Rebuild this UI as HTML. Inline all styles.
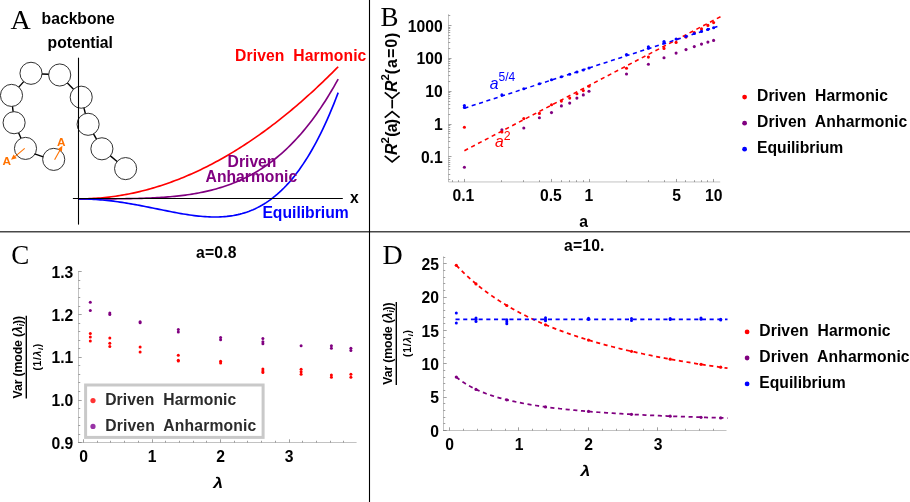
<!DOCTYPE html>
<html><head><meta charset="utf-8"><title>figure</title>
<style>
html,body{margin:0;padding:0;background:#fff;}
body{width:910px;height:502px;overflow:hidden;font-family:"Liberation Sans",sans-serif;}
svg{display:block;will-change:transform;}
text{font-family:"Liberation Sans",sans-serif;}
.b{font-weight:bold;}
.s{font-family:"Liberation Serif",serif;}
</style></head><body>
<svg width="910" height="502" viewBox="0 0 910 502">
<rect x="0" y="0" width="910" height="502" fill="#ffffff"/>

<rect x="0" y="231" width="910" height="1" fill="#484848"/><rect x="0" y="232" width="910" height="1" fill="#a4a4a4"/>
<line x1="369.5" y1="0" x2="369.5" y2="502" stroke="#000" stroke-width="1.1"/>
<text class="s" x="10.6" y="28.5" font-size="28" fill="#000">A</text>
<text class="s" x="380.6" y="26.0" font-size="27" fill="#000">B</text>
<text class="s" x="11.2" y="263.6" font-size="27" fill="#000">C</text>
<text class="s" x="382.6" y="263.8" font-size="28" fill="#000">D</text>
<text class="b" x="41.6" y="23.8" font-size="15.7" fill="#000">backbone</text>
<text class="b" x="47.6" y="47.9" font-size="15.7" fill="#000">potential</text>
<text class="b" x="350" y="203.2" font-size="15.7" fill="#000">x</text>
<line x1="18.8" y1="87.1" x2="23.7" y2="81.6" stroke="#000" stroke-width="1.4"/>
<line x1="42.0" y1="74.0" x2="48.7" y2="74.3" stroke="#000" stroke-width="1.4"/>
<line x1="67.4" y1="82.9" x2="73.5" y2="89.3" stroke="#000" stroke-width="1.4"/>
<line x1="83.9" y1="107.9" x2="85.4" y2="113.6" stroke="#000" stroke-width="1.4"/>
<line x1="93.5" y1="133.9" x2="96.5" y2="139.2" stroke="#000" stroke-width="1.4"/>
<line x1="110.4" y1="155.9" x2="117.1" y2="161.5" stroke="#000" stroke-width="1.4"/>
<line x1="12.5" y1="106.4" x2="13.1" y2="111.7" stroke="#000" stroke-width="1.4"/>
<line x1="18.6" y1="132.8" x2="21.0" y2="138.3" stroke="#000" stroke-width="1.4"/>
<line x1="34.6" y1="153.9" x2="43.3" y2="156.8" stroke="#000" stroke-width="1.4"/>
<circle cx="11.5" cy="95.4" r="11.05" fill="none" stroke="#1a1a1a" stroke-width="0.9"/>
<circle cx="31.0" cy="73.3" r="11.05" fill="none" stroke="#1a1a1a" stroke-width="0.9"/>
<circle cx="59.7" cy="75.0" r="11.05" fill="none" stroke="#1a1a1a" stroke-width="0.9"/>
<circle cx="81.2" cy="97.2" r="11.05" fill="none" stroke="#1a1a1a" stroke-width="0.9"/>
<circle cx="88.1" cy="124.3" r="11.05" fill="none" stroke="#1a1a1a" stroke-width="0.9"/>
<circle cx="101.9" cy="148.8" r="11.05" fill="none" stroke="#1a1a1a" stroke-width="0.9"/>
<circle cx="125.6" cy="168.6" r="11.05" fill="none" stroke="#1a1a1a" stroke-width="0.9"/>
<circle cx="14.1" cy="122.7" r="11.05" fill="none" stroke="#1a1a1a" stroke-width="0.9"/>
<circle cx="25.5" cy="148.4" r="11.05" fill="none" stroke="#1a1a1a" stroke-width="0.9"/>
<circle cx="53.7" cy="159.4" r="11.05" fill="none" stroke="#1a1a1a" stroke-width="0.9"/>
<line x1="54.6" y1="159.7" x2="59.8" y2="150.5" stroke="#ff7200" stroke-width="1.1"/>
<polygon points="62.4,145.8 61.9,151.7 57.6,149.3" fill="#ff7200"/>
<line x1="24.7" y1="148.4" x2="15.2" y2="156.3" stroke="#ff7200" stroke-width="1.1"/>
<polygon points="11.0,159.8 13.6,154.4 16.7,158.3" fill="#ff7200"/>
<text class="b" x="57.1" y="145.7" font-size="11.8" fill="#ff7200">A</text>
<text class="b" x="2.6" y="164.9" font-size="11.8" fill="#ff7200">A</text>
<path d="M78.50,198.90 L80.68,198.89 L82.86,198.86 L85.05,198.82 L87.23,198.75 L89.41,198.67 L91.59,198.56 L93.78,198.44 L95.96,198.30 L98.14,198.14 L100.32,197.97 L102.51,197.77 L104.69,197.56 L106.87,197.32 L109.05,197.07 L111.24,196.80 L113.42,196.51 L115.60,196.20 L117.78,195.88 L119.96,195.53 L122.15,195.17 L124.33,194.78 L126.51,194.38 L128.69,193.96 L130.88,193.52 L133.06,193.07 L135.24,192.59 L137.42,192.09 L139.61,191.58 L141.79,191.05 L143.97,190.50 L146.15,189.93 L148.34,189.34 L150.52,188.73 L152.70,188.11 L154.88,187.46 L157.06,186.80 L159.25,186.12 L161.43,185.42 L163.61,184.70 L165.79,183.96 L167.98,183.21 L170.16,182.43 L172.34,181.64 L174.52,180.83 L176.71,180.00 L178.89,179.15 L181.07,178.28 L183.25,177.39 L185.44,176.49 L187.62,175.56 L189.80,174.62 L191.98,173.66 L194.16,172.68 L196.35,171.68 L198.53,170.66 L200.71,169.63 L202.89,168.57 L205.08,167.50 L207.26,166.41 L209.44,165.29 L211.62,164.17 L213.81,163.02 L215.99,161.85 L218.17,160.66 L220.35,159.46 L222.54,158.24 L224.72,157.00 L226.90,155.74 L229.08,154.46 L231.26,153.16 L233.45,151.84 L235.63,150.51 L237.81,149.15 L239.99,147.78 L242.18,146.39 L244.36,144.98 L246.54,143.55 L248.72,142.11 L250.91,140.64 L253.09,139.16 L255.27,137.65 L257.45,136.13 L259.64,134.59 L261.82,133.03 L264.00,131.46 L266.18,129.86 L268.36,128.24 L270.55,126.61 L272.73,124.96 L274.91,123.29 L277.09,121.60 L279.28,119.89 L281.46,118.16 L283.64,116.42 L285.82,114.65 L288.01,112.87 L290.19,111.07 L292.37,109.25 L294.55,107.41 L296.74,105.55 L298.92,103.68 L301.10,101.78 L303.28,99.87 L305.46,97.93 L307.65,95.98 L309.83,94.01 L312.01,92.03 L314.19,90.02 L316.38,87.99 L318.56,85.95 L320.74,83.89 L322.92,81.80 L325.11,79.70 L327.29,77.58 L329.47,75.45 L331.65,73.29 L333.84,71.12 L336.02,68.92 L338.20,66.71" fill="none" stroke="#ff0000" stroke-width="1.65" stroke-linejoin="round"/>
<path d="M78.50,198.90 L80.68,198.90 L82.86,198.90 L85.05,198.90 L87.23,198.90 L89.41,198.89 L91.59,198.89 L93.78,198.89 L95.96,198.89 L98.14,198.88 L100.32,198.88 L102.51,198.87 L104.69,198.86 L106.87,198.85 L109.05,198.84 L111.24,198.83 L113.42,198.81 L115.60,198.80 L117.78,198.78 L119.96,198.76 L122.15,198.73 L124.33,198.70 L126.51,198.67 L128.69,198.64 L130.88,198.60 L133.06,198.55 L135.24,198.50 L137.42,198.45 L139.61,198.39 L141.79,198.33 L143.97,198.26 L146.15,198.18 L148.34,198.09 L150.52,198.00 L152.70,197.90 L154.88,197.79 L157.06,197.67 L159.25,197.54 L161.43,197.41 L163.61,197.26 L165.79,197.10 L167.98,196.93 L170.16,196.75 L172.34,196.55 L174.52,196.34 L176.71,196.12 L178.89,195.88 L181.07,195.63 L183.25,195.36 L185.44,195.07 L187.62,194.77 L189.80,194.45 L191.98,194.11 L194.16,193.75 L196.35,193.38 L198.53,192.98 L200.71,192.56 L202.89,192.11 L205.08,191.65 L207.26,191.16 L209.44,190.64 L211.62,190.10 L213.81,189.53 L215.99,188.94 L218.17,188.32 L220.35,187.66 L222.54,186.98 L224.72,186.27 L226.90,185.53 L229.08,184.75 L231.26,183.94 L233.45,183.09 L235.63,182.21 L237.81,181.29 L239.99,180.34 L242.18,179.34 L244.36,178.31 L246.54,177.23 L248.72,176.11 L250.91,174.95 L253.09,173.75 L255.27,172.50 L257.45,171.20 L259.64,169.86 L261.82,168.46 L264.00,167.02 L266.18,165.53 L268.36,163.98 L270.55,162.38 L272.73,160.73 L274.91,159.02 L277.09,157.25 L279.28,155.43 L281.46,153.54 L283.64,151.60 L285.82,149.59 L288.01,147.52 L290.19,145.38 L292.37,143.18 L294.55,140.90 L296.74,138.56 L298.92,136.15 L301.10,133.67 L303.28,131.11 L305.46,128.48 L307.65,125.78 L309.83,122.99 L312.01,120.13 L314.19,117.18 L316.38,114.16 L318.56,111.05 L320.74,107.85 L322.92,104.57 L325.11,101.20 L327.29,97.74 L329.47,94.18 L331.65,90.54 L333.84,86.80 L336.02,82.96 L338.20,79.03" fill="none" stroke="#800080" stroke-width="1.65" stroke-linejoin="round"/>
<path d="M78.50,198.90 L80.68,198.91 L82.86,198.94 L85.05,198.98 L87.23,199.05 L89.41,199.13 L91.59,199.23 L93.78,199.35 L95.96,199.49 L98.14,199.64 L100.32,199.81 L102.51,200.00 L104.69,200.21 L106.87,200.43 L109.05,200.67 L111.24,200.92 L113.42,201.19 L115.60,201.48 L117.78,201.77 L119.96,202.09 L122.15,202.41 L124.33,202.75 L126.51,203.10 L128.69,203.47 L130.88,203.84 L133.06,204.22 L135.24,204.62 L137.42,205.02 L139.61,205.43 L141.79,205.85 L143.97,206.27 L146.15,206.70 L148.34,207.14 L150.52,207.58 L152.70,208.02 L154.88,208.46 L157.06,208.91 L159.25,209.35 L161.43,209.80 L163.61,210.24 L165.79,210.68 L167.98,211.12 L170.16,211.55 L172.34,211.97 L174.52,212.38 L176.71,212.79 L178.89,213.19 L181.07,213.57 L183.25,213.94 L185.44,214.30 L187.62,214.64 L189.80,214.97 L191.98,215.28 L194.16,215.56 L196.35,215.83 L198.53,216.07 L200.71,216.29 L202.89,216.48 L205.08,216.65 L207.26,216.78 L209.44,216.88 L211.62,216.96 L213.81,216.99 L215.99,216.99 L218.17,216.96 L220.35,216.88 L222.54,216.76 L224.72,216.60 L226.90,216.40 L229.08,216.14 L231.26,215.84 L233.45,215.49 L235.63,215.08 L237.81,214.62 L239.99,214.10 L242.18,213.52 L244.36,212.88 L246.54,212.18 L248.72,211.41 L250.91,210.57 L253.09,209.66 L255.27,208.68 L257.45,207.63 L259.64,206.50 L261.82,205.29 L264.00,204.00 L266.18,202.62 L268.36,201.16 L270.55,199.60 L272.73,197.96 L274.91,196.22 L277.09,194.39 L279.28,192.46 L281.46,190.42 L283.64,188.28 L285.82,186.04 L288.01,183.68 L290.19,181.21 L292.37,178.63 L294.55,175.93 L296.74,173.11 L298.92,170.16 L301.10,167.09 L303.28,163.89 L305.46,160.56 L307.65,157.09 L309.83,153.48 L312.01,149.73 L314.19,145.84 L316.38,141.80 L318.56,137.62 L320.74,133.27 L322.92,128.77 L325.11,124.12 L327.29,119.30 L329.47,114.31 L331.65,109.15 L333.84,103.82 L336.02,98.32 L338.20,92.63" fill="none" stroke="#0000ff" stroke-width="1.65" stroke-linejoin="round"/>
<line x1="78.5" y1="57.7" x2="78.5" y2="224.6" stroke="#000" stroke-width="1.1"/>
<line x1="72.9" y1="198.55" x2="342.8" y2="198.55" stroke="#000" stroke-width="1.05"/>
<text class="b" x="235.1" y="60.9" font-size="15.7" fill="#ff0000" textLength="131.2" lengthAdjust="spacing" xml:space="preserve">Driven  Harmonic</text>
<text class="b" x="227.6" y="167.0" font-size="15.7" fill="#800080">Driven</text>
<text class="b" x="205.6" y="182.4" font-size="15.7" fill="#800080">Anharmonic</text>
<text class="b" x="262.4" y="217.8" font-size="15.7" fill="#0000ff">Equilibrium</text>
<line x1="448.5" y1="14.2" x2="448.5" y2="181.95" stroke="#666666" stroke-opacity="0.4" stroke-width="1"/>
<line x1="448.5" y1="181.95" x2="720.2" y2="181.95" stroke="#666666" stroke-opacity="0.4" stroke-width="1"/>
<line x1="452.50" y1="181.95" x2="452.50" y2="180.2" stroke="#666666" stroke-opacity="0.62" stroke-width="1"/>
<line x1="458.50" y1="181.95" x2="458.50" y2="180.2" stroke="#666666" stroke-opacity="0.62" stroke-width="1"/>
<line x1="464.50" y1="181.95" x2="464.50" y2="178.95" stroke="#666666" stroke-opacity="0.62" stroke-width="1"/>
<line x1="501.50" y1="181.95" x2="501.50" y2="180.2" stroke="#666666" stroke-opacity="0.62" stroke-width="1"/>
<line x1="523.50" y1="181.95" x2="523.50" y2="180.2" stroke="#666666" stroke-opacity="0.62" stroke-width="1"/>
<line x1="539.50" y1="181.95" x2="539.50" y2="180.2" stroke="#666666" stroke-opacity="0.62" stroke-width="1"/>
<line x1="551.50" y1="181.95" x2="551.50" y2="178.95" stroke="#666666" stroke-opacity="0.62" stroke-width="1"/>
<line x1="561.50" y1="181.95" x2="561.50" y2="180.2" stroke="#666666" stroke-opacity="0.62" stroke-width="1"/>
<line x1="569.50" y1="181.95" x2="569.50" y2="180.2" stroke="#666666" stroke-opacity="0.62" stroke-width="1"/>
<line x1="576.50" y1="181.95" x2="576.50" y2="180.2" stroke="#666666" stroke-opacity="0.62" stroke-width="1"/>
<line x1="583.50" y1="181.95" x2="583.50" y2="180.2" stroke="#666666" stroke-opacity="0.62" stroke-width="1"/>
<line x1="589.50" y1="181.95" x2="589.50" y2="178.95" stroke="#666666" stroke-opacity="0.62" stroke-width="1"/>
<line x1="626.50" y1="181.95" x2="626.50" y2="180.2" stroke="#666666" stroke-opacity="0.62" stroke-width="1"/>
<line x1="648.50" y1="181.95" x2="648.50" y2="180.2" stroke="#666666" stroke-opacity="0.62" stroke-width="1"/>
<line x1="664.50" y1="181.95" x2="664.50" y2="180.2" stroke="#666666" stroke-opacity="0.62" stroke-width="1"/>
<line x1="676.50" y1="181.95" x2="676.50" y2="178.95" stroke="#666666" stroke-opacity="0.62" stroke-width="1"/>
<line x1="685.50" y1="181.95" x2="685.50" y2="180.2" stroke="#666666" stroke-opacity="0.62" stroke-width="1"/>
<line x1="694.50" y1="181.95" x2="694.50" y2="180.2" stroke="#666666" stroke-opacity="0.62" stroke-width="1"/>
<line x1="701.50" y1="181.95" x2="701.50" y2="180.2" stroke="#666666" stroke-opacity="0.62" stroke-width="1"/>
<line x1="707.50" y1="181.95" x2="707.50" y2="180.2" stroke="#666666" stroke-opacity="0.62" stroke-width="1"/>
<line x1="713.50" y1="181.95" x2="713.50" y2="178.95" stroke="#666666" stroke-opacity="0.62" stroke-width="1"/>
<line x1="448.5" y1="179.50" x2="450.25" y2="179.50" stroke="#666666" stroke-opacity="0.62" stroke-width="1"/>
<line x1="448.5" y1="174.50" x2="450.25" y2="174.50" stroke="#666666" stroke-opacity="0.62" stroke-width="1"/>
<line x1="448.5" y1="169.50" x2="450.25" y2="169.50" stroke="#666666" stroke-opacity="0.62" stroke-width="1"/>
<line x1="448.5" y1="166.50" x2="450.25" y2="166.50" stroke="#666666" stroke-opacity="0.62" stroke-width="1"/>
<line x1="448.5" y1="164.50" x2="450.25" y2="164.50" stroke="#666666" stroke-opacity="0.62" stroke-width="1"/>
<line x1="448.5" y1="162.50" x2="450.25" y2="162.50" stroke="#666666" stroke-opacity="0.62" stroke-width="1"/>
<line x1="448.5" y1="160.50" x2="450.25" y2="160.50" stroke="#666666" stroke-opacity="0.62" stroke-width="1"/>
<line x1="448.5" y1="158.50" x2="450.25" y2="158.50" stroke="#666666" stroke-opacity="0.62" stroke-width="1"/>
<line x1="448.5" y1="156.50" x2="451.5" y2="156.50" stroke="#666666" stroke-opacity="0.62" stroke-width="1"/>
<line x1="448.5" y1="147.50" x2="450.25" y2="147.50" stroke="#666666" stroke-opacity="0.62" stroke-width="1"/>
<line x1="448.5" y1="141.50" x2="450.25" y2="141.50" stroke="#666666" stroke-opacity="0.62" stroke-width="1"/>
<line x1="448.5" y1="137.50" x2="450.25" y2="137.50" stroke="#666666" stroke-opacity="0.62" stroke-width="1"/>
<line x1="448.5" y1="133.50" x2="450.25" y2="133.50" stroke="#666666" stroke-opacity="0.62" stroke-width="1"/>
<line x1="448.5" y1="131.50" x2="450.25" y2="131.50" stroke="#666666" stroke-opacity="0.62" stroke-width="1"/>
<line x1="448.5" y1="129.50" x2="450.25" y2="129.50" stroke="#666666" stroke-opacity="0.62" stroke-width="1"/>
<line x1="448.5" y1="127.50" x2="450.25" y2="127.50" stroke="#666666" stroke-opacity="0.62" stroke-width="1"/>
<line x1="448.5" y1="125.50" x2="450.25" y2="125.50" stroke="#666666" stroke-opacity="0.62" stroke-width="1"/>
<line x1="448.5" y1="124.50" x2="451.5" y2="124.50" stroke="#666666" stroke-opacity="0.62" stroke-width="1"/>
<line x1="448.5" y1="114.50" x2="450.25" y2="114.50" stroke="#666666" stroke-opacity="0.62" stroke-width="1"/>
<line x1="448.5" y1="108.50" x2="450.25" y2="108.50" stroke="#666666" stroke-opacity="0.62" stroke-width="1"/>
<line x1="448.5" y1="104.50" x2="450.25" y2="104.50" stroke="#666666" stroke-opacity="0.62" stroke-width="1"/>
<line x1="448.5" y1="101.50" x2="450.25" y2="101.50" stroke="#666666" stroke-opacity="0.62" stroke-width="1"/>
<line x1="448.5" y1="98.50" x2="450.25" y2="98.50" stroke="#666666" stroke-opacity="0.62" stroke-width="1"/>
<line x1="448.5" y1="96.50" x2="450.25" y2="96.50" stroke="#666666" stroke-opacity="0.62" stroke-width="1"/>
<line x1="448.5" y1="94.50" x2="450.25" y2="94.50" stroke="#666666" stroke-opacity="0.62" stroke-width="1"/>
<line x1="448.5" y1="92.50" x2="450.25" y2="92.50" stroke="#666666" stroke-opacity="0.62" stroke-width="1"/>
<line x1="448.5" y1="91.50" x2="451.5" y2="91.50" stroke="#666666" stroke-opacity="0.62" stroke-width="1"/>
<line x1="448.5" y1="81.50" x2="450.25" y2="81.50" stroke="#666666" stroke-opacity="0.62" stroke-width="1"/>
<line x1="448.5" y1="75.50" x2="450.25" y2="75.50" stroke="#666666" stroke-opacity="0.62" stroke-width="1"/>
<line x1="448.5" y1="71.50" x2="450.25" y2="71.50" stroke="#666666" stroke-opacity="0.62" stroke-width="1"/>
<line x1="448.5" y1="68.50" x2="450.25" y2="68.50" stroke="#666666" stroke-opacity="0.62" stroke-width="1"/>
<line x1="448.5" y1="65.50" x2="450.25" y2="65.50" stroke="#666666" stroke-opacity="0.62" stroke-width="1"/>
<line x1="448.5" y1="63.50" x2="450.25" y2="63.50" stroke="#666666" stroke-opacity="0.62" stroke-width="1"/>
<line x1="448.5" y1="61.50" x2="450.25" y2="61.50" stroke="#666666" stroke-opacity="0.62" stroke-width="1"/>
<line x1="448.5" y1="59.50" x2="450.25" y2="59.50" stroke="#666666" stroke-opacity="0.62" stroke-width="1"/>
<line x1="448.5" y1="58.50" x2="451.5" y2="58.50" stroke="#666666" stroke-opacity="0.62" stroke-width="1"/>
<line x1="448.5" y1="48.50" x2="450.25" y2="48.50" stroke="#666666" stroke-opacity="0.62" stroke-width="1"/>
<line x1="448.5" y1="42.50" x2="450.25" y2="42.50" stroke="#666666" stroke-opacity="0.62" stroke-width="1"/>
<line x1="448.5" y1="38.50" x2="450.25" y2="38.50" stroke="#666666" stroke-opacity="0.62" stroke-width="1"/>
<line x1="448.5" y1="35.50" x2="450.25" y2="35.50" stroke="#666666" stroke-opacity="0.62" stroke-width="1"/>
<line x1="448.5" y1="32.50" x2="450.25" y2="32.50" stroke="#666666" stroke-opacity="0.62" stroke-width="1"/>
<line x1="448.5" y1="30.50" x2="450.25" y2="30.50" stroke="#666666" stroke-opacity="0.62" stroke-width="1"/>
<line x1="448.5" y1="28.50" x2="450.25" y2="28.50" stroke="#666666" stroke-opacity="0.62" stroke-width="1"/>
<line x1="448.5" y1="27.50" x2="450.25" y2="27.50" stroke="#666666" stroke-opacity="0.62" stroke-width="1"/>
<line x1="448.5" y1="25.50" x2="451.5" y2="25.50" stroke="#666666" stroke-opacity="0.62" stroke-width="1"/>
<line x1="448.5" y1="15.50" x2="450.25" y2="15.50" stroke="#666666" stroke-opacity="0.62" stroke-width="1"/>
<text class="b" x="442.7" y="31.6" font-size="15.7" text-anchor="end" fill="#000">1000</text>
<text class="b" x="442.7" y="64.4" font-size="15.7" text-anchor="end" fill="#000">100</text>
<text class="b" x="442.7" y="97.3" font-size="15.7" text-anchor="end" fill="#000">10</text>
<text class="b" x="442.7" y="130.1" font-size="15.7" text-anchor="end" fill="#000">1</text>
<text class="b" x="442.7" y="162.9" font-size="15.7" text-anchor="end" fill="#000">0.1</text>
<text class="b" x="463.4" y="200.6" font-size="15.7" text-anchor="middle" fill="#000">0.1</text>
<text class="b" x="550.9" y="200.6" font-size="15.7" text-anchor="middle" fill="#000">0.5</text>
<text class="b" x="588.8" y="200.6" font-size="15.7" text-anchor="middle" fill="#000">1</text>
<text class="b" x="676.7" y="200.6" font-size="15.7" text-anchor="middle" fill="#000">5</text>
<text class="b" x="713.8" y="200.6" font-size="15.7" text-anchor="middle" fill="#000">10</text>
<text class="b" x="583.6" y="227.1" font-size="15.7" text-anchor="middle" fill="#000">a</text>
<g transform="translate(396.6,162.9) rotate(-90)" id="bylab"><polyline points="7.0,-11.9 0.9,-4.45 7.0,3.0" fill="none" stroke="#000" stroke-width="1.7" stroke-linejoin="miter"/><text class="b" x="8.0" y="0" font-size="16" font-style="italic" fill="#000">R</text><text class="b" x="19.5" y="-7.4" font-size="11.5" fill="#000">2</text><text class="b" x="26.2" y="0" font-size="16" textLength="17.9" lengthAdjust="spacing" fill="#000">(a)</text><polyline points="45.3,-11.9 51.4,-4.45 45.3,3.0" fill="none" stroke="#000" stroke-width="1.7" stroke-linejoin="miter"/><line x1="54.5" y1="-4.4" x2="63.2" y2="-4.4" stroke="#000" stroke-width="1.7"/><polyline points="70.6,-11.9 64.5,-4.45 70.6,3.0" fill="none" stroke="#000" stroke-width="1.7" stroke-linejoin="miter"/><text class="b" x="70.8" y="0" font-size="16" font-style="italic" fill="#000">R</text><text class="b" x="82.3" y="-7.4" font-size="11.5" fill="#000">2</text><text class="b" x="88.7" y="0" font-size="16" textLength="41.6" lengthAdjust="spacing" fill="#000">(a=0)</text></g>
<line x1="464.40" y1="150.70" x2="720.50" y2="16.70" stroke="#ff0000" stroke-width="1.55" stroke-dasharray="4.1 3.6"/>
<line x1="464.40" y1="108.20" x2="720.80" y2="25.30" stroke="#0000ff" stroke-width="1.55" stroke-dasharray="4.1 3.6"/>
<circle cx="464.4" cy="167.2" r="1.55" fill="#800080"/>
<circle cx="501.9" cy="129.8" r="1.55" fill="#800080"/>
<circle cx="523.8" cy="128.0" r="1.55" fill="#800080"/>
<circle cx="539.4" cy="117.8" r="1.55" fill="#800080"/>
<circle cx="551.5" cy="112.6" r="1.55" fill="#800080"/>
<circle cx="561.4" cy="105.9" r="1.55" fill="#800080"/>
<circle cx="569.7" cy="103.1" r="1.55" fill="#800080"/>
<circle cx="576.9" cy="98.1" r="1.55" fill="#800080"/>
<circle cx="583.3" cy="94.9" r="1.55" fill="#800080"/>
<circle cx="589.0" cy="91.3" r="1.55" fill="#800080"/>
<circle cx="626.5" cy="74.0" r="1.55" fill="#800080"/>
<circle cx="648.4" cy="64.3" r="1.55" fill="#800080"/>
<circle cx="664.0" cy="57.8" r="1.55" fill="#800080"/>
<circle cx="676.1" cy="53.1" r="1.55" fill="#800080"/>
<circle cx="686.0" cy="49.6" r="1.55" fill="#800080"/>
<circle cx="694.3" cy="46.6" r="1.55" fill="#800080"/>
<circle cx="701.5" cy="44.1" r="1.55" fill="#800080"/>
<circle cx="707.9" cy="42.1" r="1.55" fill="#800080"/>
<circle cx="713.6" cy="40.4" r="1.55" fill="#800080"/>
<circle cx="464.4" cy="127.3" r="1.55" fill="#ff0000"/>
<circle cx="501.9" cy="131.9" r="1.55" fill="#ff0000"/>
<circle cx="523.8" cy="118.6" r="1.55" fill="#ff0000"/>
<circle cx="539.4" cy="113.4" r="1.55" fill="#ff0000"/>
<circle cx="551.5" cy="104.7" r="1.55" fill="#ff0000"/>
<circle cx="561.4" cy="101.1" r="1.55" fill="#ff0000"/>
<circle cx="569.7" cy="98.1" r="1.55" fill="#ff0000"/>
<circle cx="576.9" cy="93.8" r="1.55" fill="#ff0000"/>
<circle cx="583.3" cy="90.6" r="1.55" fill="#ff0000"/>
<circle cx="589.0" cy="86.3" r="1.55" fill="#ff0000"/>
<circle cx="626.5" cy="68.3" r="1.55" fill="#ff0000"/>
<circle cx="648.4" cy="57.1" r="1.55" fill="#ff0000"/>
<circle cx="664.0" cy="48.4" r="1.55" fill="#ff0000"/>
<circle cx="676.1" cy="42.4" r="1.55" fill="#ff0000"/>
<circle cx="686.0" cy="37.1" r="1.55" fill="#ff0000"/>
<circle cx="694.3" cy="32.6" r="1.55" fill="#ff0000"/>
<circle cx="701.5" cy="28.9" r="1.55" fill="#ff0000"/>
<circle cx="707.9" cy="25.4" r="1.55" fill="#ff0000"/>
<circle cx="713.6" cy="22.6" r="1.55" fill="#ff0000"/>
<circle cx="464.4" cy="105.6" r="1.55" fill="#0000ff"/>
<circle cx="464.4" cy="107.4" r="1.55" fill="#0000ff"/>
<circle cx="501.9" cy="94.9" r="1.55" fill="#0000ff"/>
<circle cx="523.8" cy="88.7" r="1.55" fill="#0000ff"/>
<circle cx="539.4" cy="83.8" r="1.55" fill="#0000ff"/>
<circle cx="551.5" cy="79.8" r="1.55" fill="#0000ff"/>
<circle cx="561.4" cy="76.7" r="1.55" fill="#0000ff"/>
<circle cx="569.7" cy="74.2" r="1.55" fill="#0000ff"/>
<circle cx="576.9" cy="72.0" r="1.55" fill="#0000ff"/>
<circle cx="583.3" cy="70.0" r="1.55" fill="#0000ff"/>
<circle cx="589.0" cy="68.0" r="1.55" fill="#0000ff"/>
<circle cx="626.5" cy="54.6" r="1.55" fill="#0000ff"/>
<circle cx="648.4" cy="46.7" r="1.55" fill="#0000ff"/>
<circle cx="648.4" cy="48.2" r="1.55" fill="#0000ff"/>
<circle cx="664.0" cy="41.6" r="1.55" fill="#0000ff"/>
<circle cx="664.0" cy="42.9" r="1.55" fill="#0000ff"/>
<circle cx="676.1" cy="39.0" r="1.55" fill="#0000ff"/>
<circle cx="686.0" cy="36.4" r="1.55" fill="#0000ff"/>
<circle cx="694.3" cy="33.5" r="1.55" fill="#0000ff"/>
<circle cx="701.5" cy="31.4" r="1.55" fill="#0000ff"/>
<circle cx="707.9" cy="29.4" r="1.55" fill="#0000ff"/>
<circle cx="713.6" cy="27.7" r="1.55" fill="#0000ff"/>
<text x="489.8" y="88.6" font-size="15.7" font-style="italic" fill="#0000ff">a<tspan font-style="normal" font-size="12" dy="-7.5">5/4</tspan></text>
<text x="495.0" y="146.6" font-size="15.7" font-style="italic" fill="#ff0000">a<tspan font-style="normal" font-size="12.3" dy="-6.8">2</tspan></text>
<circle cx="744.6" cy="97.1" r="2.4" fill="#ff0000"/>
<text class="b" x="757.0" y="100.9" font-size="15.7" fill="#000" textLength="131.0" lengthAdjust="spacing" xml:space="preserve">Driven  Harmonic</text>
<circle cx="744.6" cy="123.2" r="2.4" fill="#800080"/>
<text class="b" x="757.0" y="127.0" font-size="15.7" fill="#000" textLength="150.3" lengthAdjust="spacing" xml:space="preserve">Driven  Anharmonic</text>
<circle cx="744.6" cy="149.2" r="2.4" fill="#0000ff"/>
<text class="b" x="757.0" y="153.0" font-size="15.7" fill="#000" xml:space="preserve">Equilibrium</text>
<line x1="78.5" y1="271.0" x2="78.5" y2="443.0" stroke="#666666" stroke-opacity="0.4" stroke-width="1"/>
<line x1="78.0" y1="442.5" x2="356.6" y2="442.5" stroke="#666666" stroke-opacity="0.4" stroke-width="1"/>
<line x1="83.50" y1="442.5" x2="83.50" y2="439.3" stroke="#666666" stroke-opacity="0.62" stroke-width="1"/>
<line x1="97.50" y1="442.5" x2="97.50" y2="440.75" stroke="#666666" stroke-opacity="0.62" stroke-width="1"/>
<line x1="110.50" y1="442.5" x2="110.50" y2="440.75" stroke="#666666" stroke-opacity="0.62" stroke-width="1"/>
<line x1="124.50" y1="442.5" x2="124.50" y2="440.75" stroke="#666666" stroke-opacity="0.62" stroke-width="1"/>
<line x1="138.50" y1="442.5" x2="138.50" y2="440.75" stroke="#666666" stroke-opacity="0.62" stroke-width="1"/>
<line x1="152.50" y1="442.5" x2="152.50" y2="439.3" stroke="#666666" stroke-opacity="0.62" stroke-width="1"/>
<line x1="165.50" y1="442.5" x2="165.50" y2="440.75" stroke="#666666" stroke-opacity="0.62" stroke-width="1"/>
<line x1="179.50" y1="442.5" x2="179.50" y2="440.75" stroke="#666666" stroke-opacity="0.62" stroke-width="1"/>
<line x1="193.50" y1="442.5" x2="193.50" y2="440.75" stroke="#666666" stroke-opacity="0.62" stroke-width="1"/>
<line x1="206.50" y1="442.5" x2="206.50" y2="440.75" stroke="#666666" stroke-opacity="0.62" stroke-width="1"/>
<line x1="220.50" y1="442.5" x2="220.50" y2="439.3" stroke="#666666" stroke-opacity="0.62" stroke-width="1"/>
<line x1="234.50" y1="442.5" x2="234.50" y2="440.75" stroke="#666666" stroke-opacity="0.62" stroke-width="1"/>
<line x1="247.50" y1="442.5" x2="247.50" y2="440.75" stroke="#666666" stroke-opacity="0.62" stroke-width="1"/>
<line x1="261.50" y1="442.5" x2="261.50" y2="440.75" stroke="#666666" stroke-opacity="0.62" stroke-width="1"/>
<line x1="275.50" y1="442.5" x2="275.50" y2="440.75" stroke="#666666" stroke-opacity="0.62" stroke-width="1"/>
<line x1="289.50" y1="442.5" x2="289.50" y2="439.3" stroke="#666666" stroke-opacity="0.62" stroke-width="1"/>
<line x1="302.50" y1="442.5" x2="302.50" y2="440.75" stroke="#666666" stroke-opacity="0.62" stroke-width="1"/>
<line x1="316.50" y1="442.5" x2="316.50" y2="440.75" stroke="#666666" stroke-opacity="0.62" stroke-width="1"/>
<line x1="330.50" y1="442.5" x2="330.50" y2="440.75" stroke="#666666" stroke-opacity="0.62" stroke-width="1"/>
<line x1="343.50" y1="442.5" x2="343.50" y2="440.75" stroke="#666666" stroke-opacity="0.62" stroke-width="1"/>
<line x1="78.5" y1="442.50" x2="81.7" y2="442.50" stroke="#666666" stroke-opacity="0.62" stroke-width="1"/>
<line x1="78.5" y1="434.50" x2="80.25" y2="434.50" stroke="#666666" stroke-opacity="0.62" stroke-width="1"/>
<line x1="78.5" y1="425.50" x2="80.25" y2="425.50" stroke="#666666" stroke-opacity="0.62" stroke-width="1"/>
<line x1="78.5" y1="417.50" x2="80.25" y2="417.50" stroke="#666666" stroke-opacity="0.62" stroke-width="1"/>
<line x1="78.5" y1="408.50" x2="80.25" y2="408.50" stroke="#666666" stroke-opacity="0.62" stroke-width="1"/>
<line x1="78.5" y1="400.50" x2="81.7" y2="400.50" stroke="#666666" stroke-opacity="0.62" stroke-width="1"/>
<line x1="78.5" y1="391.50" x2="80.25" y2="391.50" stroke="#666666" stroke-opacity="0.62" stroke-width="1"/>
<line x1="78.5" y1="382.50" x2="80.25" y2="382.50" stroke="#666666" stroke-opacity="0.62" stroke-width="1"/>
<line x1="78.5" y1="374.50" x2="80.25" y2="374.50" stroke="#666666" stroke-opacity="0.62" stroke-width="1"/>
<line x1="78.5" y1="365.50" x2="80.25" y2="365.50" stroke="#666666" stroke-opacity="0.62" stroke-width="1"/>
<line x1="78.5" y1="357.50" x2="81.7" y2="357.50" stroke="#666666" stroke-opacity="0.62" stroke-width="1"/>
<line x1="78.5" y1="348.50" x2="80.25" y2="348.50" stroke="#666666" stroke-opacity="0.62" stroke-width="1"/>
<line x1="78.5" y1="340.50" x2="80.25" y2="340.50" stroke="#666666" stroke-opacity="0.62" stroke-width="1"/>
<line x1="78.5" y1="331.50" x2="80.25" y2="331.50" stroke="#666666" stroke-opacity="0.62" stroke-width="1"/>
<line x1="78.5" y1="323.50" x2="80.25" y2="323.50" stroke="#666666" stroke-opacity="0.62" stroke-width="1"/>
<line x1="78.5" y1="314.50" x2="81.7" y2="314.50" stroke="#666666" stroke-opacity="0.62" stroke-width="1"/>
<line x1="78.5" y1="306.50" x2="80.25" y2="306.50" stroke="#666666" stroke-opacity="0.62" stroke-width="1"/>
<line x1="78.5" y1="297.50" x2="80.25" y2="297.50" stroke="#666666" stroke-opacity="0.62" stroke-width="1"/>
<line x1="78.5" y1="288.50" x2="80.25" y2="288.50" stroke="#666666" stroke-opacity="0.62" stroke-width="1"/>
<line x1="78.5" y1="280.50" x2="80.25" y2="280.50" stroke="#666666" stroke-opacity="0.62" stroke-width="1"/>
<line x1="78.5" y1="271.50" x2="81.7" y2="271.50" stroke="#666666" stroke-opacity="0.62" stroke-width="1"/>
<text class="b" x="73.3" y="277.9" font-size="15.7" text-anchor="end" fill="#000">1.3</text>
<text class="b" x="73.3" y="320.6" font-size="15.7" text-anchor="end" fill="#000">1.2</text>
<text class="b" x="73.3" y="363.4" font-size="15.7" text-anchor="end" fill="#000">1.1</text>
<text class="b" x="73.3" y="406.1" font-size="15.7" text-anchor="end" fill="#000">1.0</text>
<text class="b" x="73.3" y="448.9" font-size="15.7" text-anchor="end" fill="#000">0.9</text>
<text class="b" x="83.6" y="462.0" font-size="15.7" text-anchor="middle" fill="#000">0</text>
<text class="b" x="152.1" y="462.0" font-size="15.7" text-anchor="middle" fill="#000">1</text>
<text class="b" x="220.6" y="462.0" font-size="15.7" text-anchor="middle" fill="#000">2</text>
<text class="b" x="289.1" y="462.0" font-size="15.7" text-anchor="middle" fill="#000">3</text>
<text class="b" x="213.3" y="488.0" font-size="14.7" font-style="italic" textLength="9.8" lengthAdjust="spacingAndGlyphs" fill="#000">λ</text>
<text class="b" x="195.9" y="258.0" font-size="15.7" fill="#000" textLength="40.7" lengthAdjust="spacing">a=0.8</text>
<circle cx="90.3" cy="302.3" r="1.5" fill="#800080"/>
<circle cx="90.3" cy="310.5" r="1.5" fill="#800080"/>
<circle cx="109.8" cy="312.9" r="1.5" fill="#800080"/>
<circle cx="109.8" cy="314.5" r="1.5" fill="#800080"/>
<circle cx="140.1" cy="321.7" r="1.5" fill="#800080"/>
<circle cx="140.1" cy="322.8" r="1.5" fill="#800080"/>
<circle cx="178.3" cy="329.6" r="1.5" fill="#800080"/>
<circle cx="178.3" cy="332.0" r="1.5" fill="#800080"/>
<circle cx="220.6" cy="337.4" r="1.5" fill="#800080"/>
<circle cx="220.6" cy="339.8" r="1.5" fill="#800080"/>
<circle cx="262.9" cy="338.4" r="1.5" fill="#800080"/>
<circle cx="262.9" cy="341.8" r="1.5" fill="#800080"/>
<circle cx="262.9" cy="343.8" r="1.5" fill="#800080"/>
<circle cx="301.1" cy="345.8" r="1.5" fill="#800080"/>
<circle cx="331.4" cy="345.8" r="1.5" fill="#800080"/>
<circle cx="331.4" cy="348.2" r="1.5" fill="#800080"/>
<circle cx="350.9" cy="348.2" r="1.5" fill="#800080"/>
<circle cx="350.9" cy="350.4" r="1.5" fill="#800080"/>
<circle cx="90.3" cy="333.6" r="1.5" fill="#ff0000"/>
<circle cx="90.3" cy="337.0" r="1.5" fill="#ff0000"/>
<circle cx="90.3" cy="341.0" r="1.5" fill="#ff0000"/>
<circle cx="109.8" cy="338.0" r="1.5" fill="#ff0000"/>
<circle cx="109.8" cy="343.2" r="1.5" fill="#ff0000"/>
<circle cx="109.8" cy="346.6" r="1.5" fill="#ff0000"/>
<circle cx="140.1" cy="347.0" r="1.5" fill="#ff0000"/>
<circle cx="140.1" cy="351.9" r="1.5" fill="#ff0000"/>
<circle cx="178.3" cy="355.3" r="1.5" fill="#ff0000"/>
<circle cx="178.3" cy="360.3" r="1.5" fill="#ff0000"/>
<circle cx="178.3" cy="361.1" r="1.5" fill="#ff0000"/>
<circle cx="220.6" cy="361.3" r="1.5" fill="#ff0000"/>
<circle cx="220.6" cy="363.1" r="1.5" fill="#ff0000"/>
<circle cx="262.9" cy="369.1" r="1.5" fill="#ff0000"/>
<circle cx="262.9" cy="370.9" r="1.5" fill="#ff0000"/>
<circle cx="262.9" cy="372.5" r="1.5" fill="#ff0000"/>
<circle cx="301.1" cy="369.3" r="1.5" fill="#ff0000"/>
<circle cx="301.1" cy="371.7" r="1.5" fill="#ff0000"/>
<circle cx="301.1" cy="374.3" r="1.5" fill="#ff0000"/>
<circle cx="331.4" cy="374.9" r="1.5" fill="#ff0000"/>
<circle cx="331.4" cy="377.3" r="1.5" fill="#ff0000"/>
<circle cx="350.9" cy="374.3" r="1.5" fill="#ff0000"/>
<circle cx="350.9" cy="377.3" r="1.5" fill="#ff0000"/>
<rect x="85.6" y="385.0" width="177.5" height="52.4" fill="#ffffff" fill-opacity="0.85" stroke="#c9c9c9" stroke-width="3"/>
<circle cx="93.0" cy="400.6" r="2.6" fill="#ff3333"/>
<circle cx="93.0" cy="426.4" r="2.6" fill="#9933a6"/>
<text class="b" x="105.2" y="404.8" font-size="15.7" fill="#2b2b2b" textLength="131" lengthAdjust="spacing" xml:space="preserve">Driven  Harmonic</text>
<text class="b" x="105.2" y="430.6" font-size="15.7" fill="#2b2b2b" textLength="151" lengthAdjust="spacing" xml:space="preserve">Driven  Anharmonic</text>
<g transform="translate(21.5,357.2) rotate(-90)"><text class="b" x="0" y="0" font-size="12.3" text-anchor="middle" fill="#000" textLength="82.4" lengthAdjust="spacing">Var (mode (<tspan font-style="italic">λ</tspan><tspan font-style="italic" font-size="8.5" dy="2">i</tspan><tspan dy="-2">))</tspan></text></g>
<line x1="26.3" y1="315.8" x2="26.3" y2="398.59999999999997" stroke="#000" stroke-width="1.4"/>
<g transform="translate(40.9,357.2) rotate(-90)"><text class="b" x="0" y="0" font-size="10.4" text-anchor="middle" fill="#000" textLength="26.8" lengthAdjust="spacing">(1/<tspan font-style="italic">λ</tspan><tspan font-style="italic" font-size="7.5" dy="1.8">i</tspan><tspan dy="-1.8">)</tspan></text></g>
<line x1="443.5" y1="256.4" x2="443.5" y2="431.0" stroke="#666666" stroke-opacity="0.4" stroke-width="1"/>
<line x1="443.0" y1="430.5" x2="726.5" y2="430.5" stroke="#666666" stroke-opacity="0.4" stroke-width="1"/>
<line x1="449.50" y1="430.5" x2="449.50" y2="427.3" stroke="#666666" stroke-opacity="0.62" stroke-width="1"/>
<line x1="463.50" y1="430.5" x2="463.50" y2="428.75" stroke="#666666" stroke-opacity="0.62" stroke-width="1"/>
<line x1="477.50" y1="430.5" x2="477.50" y2="428.75" stroke="#666666" stroke-opacity="0.62" stroke-width="1"/>
<line x1="491.50" y1="430.5" x2="491.50" y2="428.75" stroke="#666666" stroke-opacity="0.62" stroke-width="1"/>
<line x1="505.50" y1="430.5" x2="505.50" y2="428.75" stroke="#666666" stroke-opacity="0.62" stroke-width="1"/>
<line x1="518.50" y1="430.5" x2="518.50" y2="427.3" stroke="#666666" stroke-opacity="0.62" stroke-width="1"/>
<line x1="532.50" y1="430.5" x2="532.50" y2="428.75" stroke="#666666" stroke-opacity="0.62" stroke-width="1"/>
<line x1="546.50" y1="430.5" x2="546.50" y2="428.75" stroke="#666666" stroke-opacity="0.62" stroke-width="1"/>
<line x1="560.50" y1="430.5" x2="560.50" y2="428.75" stroke="#666666" stroke-opacity="0.62" stroke-width="1"/>
<line x1="574.50" y1="430.5" x2="574.50" y2="428.75" stroke="#666666" stroke-opacity="0.62" stroke-width="1"/>
<line x1="588.50" y1="430.5" x2="588.50" y2="427.3" stroke="#666666" stroke-opacity="0.62" stroke-width="1"/>
<line x1="602.50" y1="430.5" x2="602.50" y2="428.75" stroke="#666666" stroke-opacity="0.62" stroke-width="1"/>
<line x1="616.50" y1="430.5" x2="616.50" y2="428.75" stroke="#666666" stroke-opacity="0.62" stroke-width="1"/>
<line x1="629.50" y1="430.5" x2="629.50" y2="428.75" stroke="#666666" stroke-opacity="0.62" stroke-width="1"/>
<line x1="643.50" y1="430.5" x2="643.50" y2="428.75" stroke="#666666" stroke-opacity="0.62" stroke-width="1"/>
<line x1="657.50" y1="430.5" x2="657.50" y2="427.3" stroke="#666666" stroke-opacity="0.62" stroke-width="1"/>
<line x1="671.50" y1="430.5" x2="671.50" y2="428.75" stroke="#666666" stroke-opacity="0.62" stroke-width="1"/>
<line x1="685.50" y1="430.5" x2="685.50" y2="428.75" stroke="#666666" stroke-opacity="0.62" stroke-width="1"/>
<line x1="699.50" y1="430.5" x2="699.50" y2="428.75" stroke="#666666" stroke-opacity="0.62" stroke-width="1"/>
<line x1="713.50" y1="430.5" x2="713.50" y2="428.75" stroke="#666666" stroke-opacity="0.62" stroke-width="1"/>
<line x1="443.5" y1="430.50" x2="446.7" y2="430.50" stroke="#666666" stroke-opacity="0.62" stroke-width="1"/>
<line x1="443.5" y1="423.50" x2="445.25" y2="423.50" stroke="#666666" stroke-opacity="0.62" stroke-width="1"/>
<line x1="443.5" y1="417.50" x2="445.25" y2="417.50" stroke="#666666" stroke-opacity="0.62" stroke-width="1"/>
<line x1="443.5" y1="410.50" x2="445.25" y2="410.50" stroke="#666666" stroke-opacity="0.62" stroke-width="1"/>
<line x1="443.5" y1="403.50" x2="445.25" y2="403.50" stroke="#666666" stroke-opacity="0.62" stroke-width="1"/>
<line x1="443.5" y1="397.50" x2="446.7" y2="397.50" stroke="#666666" stroke-opacity="0.62" stroke-width="1"/>
<line x1="443.5" y1="390.50" x2="445.25" y2="390.50" stroke="#666666" stroke-opacity="0.62" stroke-width="1"/>
<line x1="443.5" y1="383.50" x2="445.25" y2="383.50" stroke="#666666" stroke-opacity="0.62" stroke-width="1"/>
<line x1="443.5" y1="377.50" x2="445.25" y2="377.50" stroke="#666666" stroke-opacity="0.62" stroke-width="1"/>
<line x1="443.5" y1="370.50" x2="445.25" y2="370.50" stroke="#666666" stroke-opacity="0.62" stroke-width="1"/>
<line x1="443.5" y1="363.50" x2="446.7" y2="363.50" stroke="#666666" stroke-opacity="0.62" stroke-width="1"/>
<line x1="443.5" y1="357.50" x2="445.25" y2="357.50" stroke="#666666" stroke-opacity="0.62" stroke-width="1"/>
<line x1="443.5" y1="350.50" x2="445.25" y2="350.50" stroke="#666666" stroke-opacity="0.62" stroke-width="1"/>
<line x1="443.5" y1="343.50" x2="445.25" y2="343.50" stroke="#666666" stroke-opacity="0.62" stroke-width="1"/>
<line x1="443.5" y1="337.50" x2="445.25" y2="337.50" stroke="#666666" stroke-opacity="0.62" stroke-width="1"/>
<line x1="443.5" y1="330.50" x2="446.7" y2="330.50" stroke="#666666" stroke-opacity="0.62" stroke-width="1"/>
<line x1="443.5" y1="323.50" x2="445.25" y2="323.50" stroke="#666666" stroke-opacity="0.62" stroke-width="1"/>
<line x1="443.5" y1="317.50" x2="445.25" y2="317.50" stroke="#666666" stroke-opacity="0.62" stroke-width="1"/>
<line x1="443.5" y1="310.50" x2="445.25" y2="310.50" stroke="#666666" stroke-opacity="0.62" stroke-width="1"/>
<line x1="443.5" y1="303.50" x2="445.25" y2="303.50" stroke="#666666" stroke-opacity="0.62" stroke-width="1"/>
<line x1="443.5" y1="297.50" x2="446.7" y2="297.50" stroke="#666666" stroke-opacity="0.62" stroke-width="1"/>
<line x1="443.5" y1="290.50" x2="445.25" y2="290.50" stroke="#666666" stroke-opacity="0.62" stroke-width="1"/>
<line x1="443.5" y1="283.50" x2="445.25" y2="283.50" stroke="#666666" stroke-opacity="0.62" stroke-width="1"/>
<line x1="443.5" y1="277.50" x2="445.25" y2="277.50" stroke="#666666" stroke-opacity="0.62" stroke-width="1"/>
<line x1="443.5" y1="270.50" x2="445.25" y2="270.50" stroke="#666666" stroke-opacity="0.62" stroke-width="1"/>
<line x1="443.5" y1="263.50" x2="446.7" y2="263.50" stroke="#666666" stroke-opacity="0.62" stroke-width="1"/>
<line x1="443.5" y1="257.50" x2="445.25" y2="257.50" stroke="#666666" stroke-opacity="0.62" stroke-width="1"/>
<text class="b" x="439.0" y="269.9" font-size="15.7" text-anchor="end" fill="#000">25</text>
<text class="b" x="439.0" y="303.2" font-size="15.7" text-anchor="end" fill="#000">20</text>
<text class="b" x="439.0" y="336.6" font-size="15.7" text-anchor="end" fill="#000">15</text>
<text class="b" x="439.0" y="369.9" font-size="15.7" text-anchor="end" fill="#000">10</text>
<text class="b" x="439.0" y="403.2" font-size="15.7" text-anchor="end" fill="#000">5</text>
<text class="b" x="439.0" y="436.6" font-size="15.7" text-anchor="end" fill="#000">0</text>
<text class="b" x="449.5" y="449.7" font-size="15.7" text-anchor="middle" fill="#000">0</text>
<text class="b" x="519.0" y="449.7" font-size="15.7" text-anchor="middle" fill="#000">1</text>
<text class="b" x="588.5" y="449.7" font-size="15.7" text-anchor="middle" fill="#000">2</text>
<text class="b" x="658.0" y="449.7" font-size="15.7" text-anchor="middle" fill="#000">3</text>
<text class="b" x="580.5" y="476.4" font-size="14.7" font-style="italic" textLength="9.8" lengthAdjust="spacingAndGlyphs" fill="#000">λ</text>
<text class="b" x="564.0" y="250.6" font-size="15.7" fill="#000" textLength="40.4" lengthAdjust="spacing">a=10.</text>
<path d="M456.30,265.33 L459.04,268.19 L461.78,270.94 L464.52,273.60 L467.26,276.17 L470.00,278.66 L472.74,281.06 L475.48,283.38 L478.22,285.64 L480.96,287.82 L483.70,289.93 L486.44,291.98 L489.18,293.97 L491.91,295.90 L494.65,297.77 L497.39,299.60 L500.13,301.37 L502.87,303.09 L505.61,304.76 L508.35,306.39 L511.09,307.97 L513.83,309.52 L516.57,311.02 L519.31,312.48 L522.05,313.91 L524.79,315.30 L527.53,316.66 L530.27,317.99 L533.01,319.28 L535.74,320.54 L538.48,321.77 L541.22,322.98 L543.96,324.15 L546.70,325.30 L549.44,326.43 L552.18,327.52 L554.92,328.60 L557.66,329.65 L560.40,330.68 L563.14,331.68 L565.88,332.67 L568.62,333.63 L571.36,334.58 L574.10,335.51 L576.84,336.41 L579.57,337.30 L582.31,338.17 L585.05,339.03 L587.79,339.86 L590.53,340.69 L593.27,341.49 L596.01,342.28 L598.75,343.06 L601.49,343.82 L604.23,344.57 L606.97,345.30 L609.71,346.02 L612.45,346.73 L615.19,347.43 L617.93,348.11 L620.66,348.78 L623.40,349.44 L626.14,350.09 L628.88,350.73 L631.62,351.35 L634.36,351.97 L637.10,352.58 L639.84,353.17 L642.58,353.76 L645.32,354.34 L648.06,354.90 L650.80,355.46 L653.54,356.01 L656.28,356.55 L659.02,357.09 L661.76,357.61 L664.49,358.13 L667.23,358.64 L669.97,359.14 L672.71,359.63 L675.45,360.12 L678.19,360.60 L680.93,361.07 L683.67,361.54 L686.41,362.00 L689.15,362.45 L691.89,362.89 L694.63,363.33 L697.37,363.77 L700.11,364.19 L702.85,364.62 L705.59,365.03 L708.32,365.44 L711.06,365.85 L713.80,366.25 L716.54,366.64 L719.28,367.03 L722.02,367.41 L724.76,367.79 L727.50,368.16" fill="none" stroke="#ff0000" stroke-width="1.75" stroke-dasharray="4.1 3.6" stroke-linejoin="round"/>
<path d="M456.30,377.05 L459.04,379.22 L461.78,381.21 L464.52,383.04 L467.26,384.72 L470.00,386.29 L472.74,387.74 L475.48,389.10 L478.22,390.36 L480.96,391.54 L483.70,392.65 L486.44,393.70 L489.18,394.68 L491.91,395.60 L494.65,396.48 L497.39,397.31 L500.13,398.09 L502.87,398.84 L505.61,399.54 L508.35,400.22 L511.09,400.86 L513.83,401.47 L516.57,402.05 L519.31,402.61 L522.05,403.14 L524.79,403.66 L527.53,404.15 L530.27,404.62 L533.01,405.07 L535.74,405.50 L538.48,405.92 L541.22,406.32 L543.96,406.70 L546.70,407.08 L549.44,407.44 L552.18,407.78 L554.92,408.12 L557.66,408.44 L560.40,408.75 L563.14,409.06 L565.88,409.35 L568.62,409.63 L571.36,409.91 L574.10,410.17 L576.84,410.43 L579.57,410.68 L582.31,410.93 L585.05,411.16 L587.79,411.39 L590.53,411.61 L593.27,411.83 L596.01,412.04 L598.75,412.25 L601.49,412.45 L604.23,412.64 L606.97,412.83 L609.71,413.01 L612.45,413.19 L615.19,413.37 L617.93,413.54 L620.66,413.71 L623.40,413.87 L626.14,414.03 L628.88,414.19 L631.62,414.34 L634.36,414.49 L637.10,414.63 L639.84,414.77 L642.58,414.91 L645.32,415.05 L648.06,415.18 L650.80,415.31 L653.54,415.43 L656.28,415.56 L659.02,415.68 L661.76,415.80 L664.49,415.92 L667.23,416.03 L669.97,416.14 L672.71,416.25 L675.45,416.36 L678.19,416.47 L680.93,416.57 L683.67,416.67 L686.41,416.77 L689.15,416.87 L691.89,416.96 L694.63,417.06 L697.37,417.15 L700.11,417.24 L702.85,417.33 L705.59,417.42 L708.32,417.51 L711.06,417.59 L713.80,417.67 L716.54,417.76 L719.28,417.84 L722.02,417.92 L724.76,417.99 L727.50,418.07" fill="none" stroke="#800080" stroke-width="1.75" stroke-dasharray="4.1 3.6" stroke-linejoin="round"/>
<line x1="455.50" y1="319.40" x2="727.50" y2="319.40" stroke="#0000ff" stroke-width="1.75" stroke-dasharray="4.1 3.6"/>
<circle cx="456.3" cy="265.3" r="1.6" fill="#ff0000"/>
<circle cx="476.0" cy="283.9" r="1.6" fill="#ff0000"/>
<circle cx="506.8" cy="305.5" r="1.6" fill="#ff0000"/>
<circle cx="545.5" cy="324.8" r="1.6" fill="#ff0000"/>
<circle cx="588.5" cy="340.1" r="1.6" fill="#ff0000"/>
<circle cx="631.5" cy="351.3" r="1.6" fill="#ff0000"/>
<circle cx="670.2" cy="359.2" r="1.6" fill="#ff0000"/>
<circle cx="701.0" cy="364.3" r="1.6" fill="#ff0000"/>
<circle cx="720.7" cy="367.2" r="1.6" fill="#ff0000"/>
<circle cx="456.3" cy="377.1" r="1.6" fill="#800080"/>
<circle cx="476.0" cy="389.4" r="1.6" fill="#800080"/>
<circle cx="506.8" cy="399.8" r="1.6" fill="#800080"/>
<circle cx="545.5" cy="406.9" r="1.6" fill="#800080"/>
<circle cx="588.5" cy="411.4" r="1.6" fill="#800080"/>
<circle cx="631.5" cy="414.3" r="1.6" fill="#800080"/>
<circle cx="670.2" cy="416.2" r="1.6" fill="#800080"/>
<circle cx="701.0" cy="417.3" r="1.6" fill="#800080"/>
<circle cx="720.7" cy="417.9" r="1.6" fill="#800080"/>
<circle cx="456.3" cy="312.9" r="1.5" fill="#0000ff"/>
<circle cx="456.3" cy="323.1" r="1.5" fill="#0000ff"/>
<circle cx="476.0" cy="317.9" r="1.5" fill="#0000ff"/>
<circle cx="476.0" cy="319.6" r="1.5" fill="#0000ff"/>
<circle cx="476.0" cy="321.5" r="1.5" fill="#0000ff"/>
<circle cx="506.8" cy="319.8" r="1.5" fill="#0000ff"/>
<circle cx="506.8" cy="321.8" r="1.5" fill="#0000ff"/>
<circle cx="506.8" cy="323.8" r="1.5" fill="#0000ff"/>
<circle cx="545.5" cy="317.8" r="1.5" fill="#0000ff"/>
<circle cx="545.5" cy="319.4" r="1.5" fill="#0000ff"/>
<circle cx="545.5" cy="320.8" r="1.5" fill="#0000ff"/>
<circle cx="588.5" cy="318.2" r="1.5" fill="#0000ff"/>
<circle cx="588.5" cy="319.4" r="1.5" fill="#0000ff"/>
<circle cx="631.5" cy="318.6" r="1.5" fill="#0000ff"/>
<circle cx="631.5" cy="320.4" r="1.5" fill="#0000ff"/>
<circle cx="670.2" cy="318.6" r="1.5" fill="#0000ff"/>
<circle cx="670.2" cy="319.6" r="1.5" fill="#0000ff"/>
<circle cx="701.0" cy="318.0" r="1.5" fill="#0000ff"/>
<circle cx="701.0" cy="319.2" r="1.5" fill="#0000ff"/>
<circle cx="720.7" cy="319.2" r="1.5" fill="#0000ff"/>
<circle cx="720.7" cy="320.0" r="1.5" fill="#0000ff"/>
<g transform="translate(391.5,343.5) rotate(-90)"><text class="b" x="0" y="0" font-size="12.3" text-anchor="middle" fill="#000" textLength="82.4" lengthAdjust="spacing">Var (mode (<tspan font-style="italic">λ</tspan><tspan font-style="italic" font-size="8.5" dy="2">i</tspan><tspan dy="-2">))</tspan></text></g>
<line x1="396.3" y1="302.1" x2="396.3" y2="384.9" stroke="#000" stroke-width="1.4"/>
<g transform="translate(410.9,343.5) rotate(-90)"><text class="b" x="0" y="0" font-size="10.4" text-anchor="middle" fill="#000" textLength="26.8" lengthAdjust="spacing">(1/<tspan font-style="italic">λ</tspan><tspan font-style="italic" font-size="7.5" dy="1.8">i</tspan><tspan dy="-1.8">)</tspan></text></g>
<circle cx="747.1" cy="331.9" r="2.4" fill="#ff0000"/>
<text class="b" x="759.3" y="335.7" font-size="15.7" fill="#000" textLength="131.3" lengthAdjust="spacing" xml:space="preserve">Driven  Harmonic</text>
<circle cx="747.1" cy="358.0" r="2.4" fill="#800080"/>
<text class="b" x="759.3" y="361.8" font-size="15.7" fill="#000" textLength="150.3" lengthAdjust="spacing" xml:space="preserve">Driven  Anharmonic</text>
<circle cx="747.1" cy="383.9" r="2.4" fill="#0000ff"/>
<text class="b" x="759.3" y="387.7" font-size="15.7" fill="#000" xml:space="preserve">Equilibrium</text>
</svg></body></html>
